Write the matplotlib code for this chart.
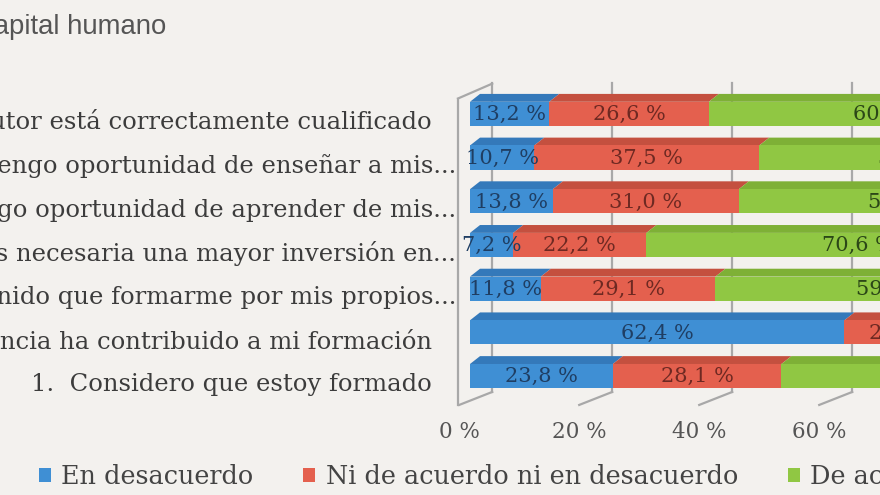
import numpy as np
import matplotlib
matplotlib.use('Agg')
import matplotlib.pyplot as plt
from matplotlib.patches import Polygon, Patch

# datos (de arriba a abajo)
preguntas = [
    "7. Mi tutor está correctamente cualificado",
    "6. Tengo oportunidad de enseñar a mis...",
    "5. Tengo oportunidad de aprender de mis...",
    "4. Es necesaria una mayor inversión en...",
    "3. He tenido que formarme por mis propios...",
    "2. Mi experiencia ha contribuido a mi formación",
    "1.  Considero que estoy formado",
]
desacuerdo = [13.2, 10.7, 13.8, 7.2, 11.8, 62.4, 23.8]
neutral = [26.6, 37.5, 31.0, 22.2, 29.1, 20.5, 28.1]
de_acuerdo = [60.2, 51.8, 55.2, 70.6, 59.1, 17.1, 48.1]
series = ["En desacuerdo", "Ni de acuerdo ni en desacuerdo", "De acuerdo"]
ticks = [0, 20, 40, 60, 80, 100]
tick_labels = ["0 %", "20 %", "40 %", "60 %", "80 %", "100 %"]

fondo = "#f3f1ee"
colores = ["#3f8fd4", "#e4604e", "#90c743"]
colores_top = ["#3479ba", "#c4503f", "#7eb036"]
colores_txt = ["#1f3e63", "#6e2922", "#2b4717"]
serif = "DejaVu Serif"

fig = plt.figure(figsize=(8.8, 4.95), dpi=100, facecolor=fondo)
ax = fig.add_axes([0.5, 0.1717, 0.5, 0.6768])
ax.set_facecolor(fondo)
for s in ax.spines.values():
    s.set_visible(False)

n = len(preguntas)
ypos = np.arange(n)[::-1]  # fila superior = 6
h = 0.55
dx, dy = 1.67, 0.18
gris = "#a8a8a8"

# pared del fondo y suelo (efecto 3D)
for t in ticks:
    ax.plot([t + 3.7, t + 3.7], [-0.365, 6.71], color=gris, lw=1.6, zorder=1)
    ax.plot([t - 1.8, t + 3.7], [-0.662, -0.365], color=gris, lw=1.6, zorder=1)
ax.plot([-2.0, -2.0], [-0.662, 6.35], color=gris, lw=1.6, zorder=1)
ax.plot([-2.0, 3.7], [6.35, 6.69], color=gris, lw=1.6, zorder=1)

datos = [desacuerdo, neutral, de_acuerdo]
left = np.zeros(n)
for k, vals in enumerate(datos):
    vals = np.array(vals)
    ax.barh(ypos, vals, left=left, height=h, color=colores[k], zorder=3)
    for y, l, w in zip(ypos, left, vals):
        top = y + h / 2
        ax.add_patch(Polygon([(l, top), (l + w, top), (l + w + dx, top + dy),
                              (l + dx, top + dy)], closed=True,
                             facecolor=colores_top[k], edgecolor='none', zorder=2))
        ax.text(l + w / 2, y - 0.02, f"{w:.1f} %".replace(".", ","),
                ha='center', va='center', fontsize=15, family=serif,
                color=colores_txt[k], zorder=4, clip_on=True)
    left = left + vals

ax.set_yticks([])
ax.set_xticks([t - 1.8 for t in ticks])
ax.set_xticklabels(tick_labels, fontsize=15.5, family=serif, color="#555555")
ax.tick_params(axis='x', length=0, pad=8)
ax.set_xlim(-5, 68.33)
ax.set_ylim(-0.778, 6.888)

# etiquetas de las filas
for y, txt in zip(ypos, preguntas):
    xr = 456 if txt.endswith("...") else 432
    yy = 376 - 43.7 * y + 9
    fig.text(xr / 880, 1 - yy / 495, txt, ha='right', va='center',
             fontsize=17.5, family=serif, color="#3c3c3c")

fig.text(166 / 880, 1 - 27 / 495, "Capital humano", ha='right', va='center',
         fontsize=19.8, family="Liberation Sans", color="#555555")

handles = [Patch(facecolor=c, edgecolor='none') for c in colores]
fig.legend(handles, series, loc='center left',
           bbox_to_anchor=(39 / 880, 1 - 477 / 495), ncol=3, frameon=False,
           prop={'family': serif, 'size': 18.4}, labelcolor="#444444",
           handlelength=0.47, handleheight=0.47, handletextpad=0.4,
           columnspacing=1.95, borderaxespad=0, borderpad=0)

fig.savefig("out.png", dpi=100, facecolor=fondo)
